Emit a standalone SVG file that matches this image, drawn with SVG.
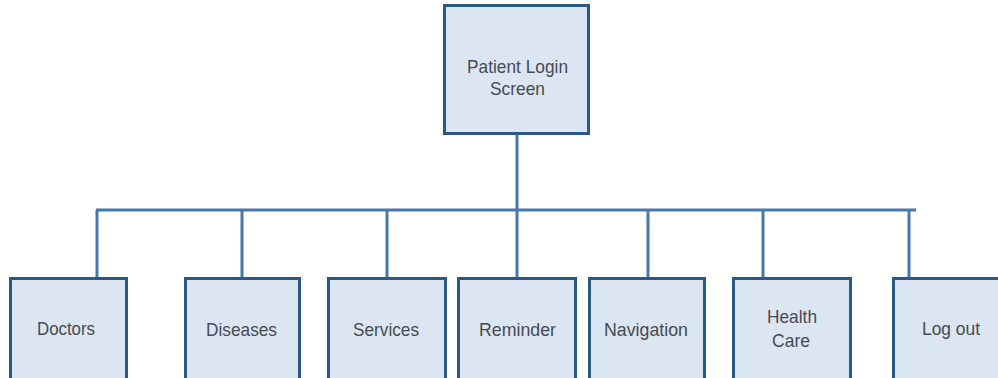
<svg xmlns="http://www.w3.org/2000/svg" width="998" height="378" viewBox="0 0 998 378">
  <style>
    .box { fill: #dce6f2; stroke: #2b5985; stroke-width: 3; }
    .lbl { font-family: "Liberation Sans", Arial, sans-serif; font-size: 19px; fill: #464a52; text-anchor: middle; }
    .wire { stroke: #4877ac; stroke-width: 3; fill: none; }
  </style>
  <rect x="0" y="0" width="998" height="378" fill="#ffffff"/>

  <!-- connectors -->
  <g id="connectors">
    <path class="wire" d="M517 133 V210"/>
    <path class="wire" d="M96 210 H916"/>
    <path class="wire" d="M97 210 V278"/>
    <path class="wire" d="M242 210 V278"/>
    <path class="wire" d="M387 210 V278"/>
    <path class="wire" d="M517 210 V278"/>
    <path class="wire" d="M648 210 V278"/>
    <path class="wire" d="M763 210 V278"/>
    <path class="wire" d="M909 210 V278"/>
  </g>

  <g id="patient-login">
    <rect class="box" x="444.5" y="5.5" width="144" height="128"/>
    <text class="lbl" x="517.5" y="73" textLength="101" lengthAdjust="spacingAndGlyphs">Patient Login</text>
    <text class="lbl" x="517.5" y="95" textLength="55" lengthAdjust="spacingAndGlyphs">Screen</text>
  </g>

  <g id="doctors">
    <rect class="box" x="10.5" y="278.5" width="116" height="110"/>
    <text class="lbl" x="66" y="335" textLength="58" lengthAdjust="spacingAndGlyphs">Doctors</text>
  </g>

  <g id="diseases">
    <rect class="box" x="185.5" y="278.5" width="114" height="110"/>
    <text class="lbl" x="241.5" y="336" textLength="71" lengthAdjust="spacingAndGlyphs">Diseases</text>
  </g>

  <g id="services">
    <rect class="box" x="328.5" y="278.5" width="117" height="110"/>
    <text class="lbl" x="386" y="336" textLength="66" lengthAdjust="spacingAndGlyphs">Services</text>
  </g>

  <g id="reminder">
    <rect class="box" x="458.5" y="278.5" width="117" height="110"/>
    <text class="lbl" x="517.5" y="336" textLength="77" lengthAdjust="spacingAndGlyphs">Reminder</text>
  </g>

  <g id="navigation">
    <rect class="box" x="589.5" y="278.5" width="115" height="110"/>
    <text class="lbl" x="646" y="336" textLength="84" lengthAdjust="spacingAndGlyphs">Navigation</text>
  </g>

  <g id="health-care">
    <rect class="box" x="733.5" y="278.5" width="117" height="110"/>
    <text class="lbl" x="792" y="323" textLength="50" lengthAdjust="spacingAndGlyphs">Health</text>
    <text class="lbl" x="791" y="347" textLength="38" lengthAdjust="spacingAndGlyphs">Care</text>
  </g>

  <g id="log-out">
    <rect class="box" x="893.5" y="278.5" width="118" height="110"/>
    <text class="lbl" x="951" y="335" textLength="58" lengthAdjust="spacingAndGlyphs">Log out</text>
  </g>
</svg>
